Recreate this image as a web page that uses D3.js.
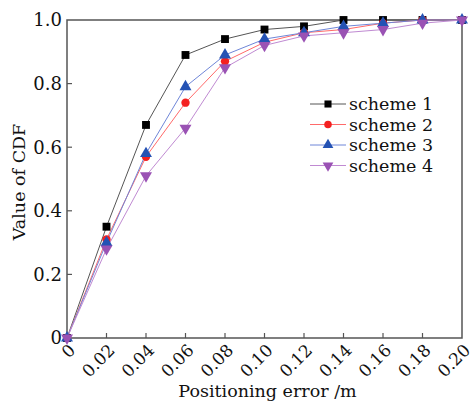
<!DOCTYPE html>
<html>
<head>
<meta charset="utf-8">
<script src="https://cdn.jsdelivr.net/npm/d3@7"></script>
<style>
  body { margin: 0; background: #fff; }
  text { font-family: "DejaVu Serif", serif; }
</style>
</head>
<body>
<div id="container"></div>
<script>
const xValues = [0, 0.02, 0.04, 0.06, 0.08, 0.10, 0.12, 0.14, 0.16, 0.18, 0.20]
const scheme1 = [0, 0.35, 0.67, 0.89, 0.94, 0.97, 0.98, 1.0, 1.0, 1.0, 1.0]
const scheme2 = [0, 0.31, 0.57, 0.74, 0.87, 0.93, 0.96, 0.97, 0.99, 1.0, 1.0]
const scheme3 = [0, 0.30, 0.58, 0.79, 0.89, 0.94, 0.96, 0.98, 0.99, 1.0, 1.0]
const scheme4 = [0, 0.28, 0.51, 0.66, 0.85, 0.92, 0.95, 0.96, 0.97, 0.99, 1.0]
const seriesNames = ["scheme 1", "scheme 2", "scheme 3", "scheme 4"]
const xTickLabels = ["0", "0.02", "0.04", "0.06", "0.08", "0.10", "0.12", "0.14", "0.16", "0.18", "0.20"]
const yTicks = [0, 0.2, 0.4, 0.6, 0.8, 1.0]
const yTickLabels = ["0", "0.2", "0.4", "0.6", "0.8", "1.0"]

const series = [
    { name: seriesNames[0], values: scheme1, line: "#555", fill: "#000", symbol: d3.symbolSquare, rot: 0 },
    { name: seriesNames[1], values: scheme2, line: "#ff6a6a", fill: "#f42020", symbol: d3.symbolCircle, rot: 0 },
    { name: seriesNames[2], values: scheme3, line: "#6f86d8", fill: "#2452b4", symbol: d3.symbolTriangle, rot: 0 },
    { name: seriesNames[3], values: scheme4, line: "#c08ad2", fill: "#9a52b4", symbol: d3.symbolTriangle, rot: 180 }
]

const margin = { top: 20, right: 10, bottom: 63, left: 67 }
const width = 472 - margin.left - margin.right
const height = 401 - margin.top - margin.bottom

let svg = d3.select("#container")
    .append("svg")
    .attr("width", 472)
    .attr("height", 401)
    .append("g")
    .attr("transform", "translate(" + margin.left + "," + margin.top + ")")

const xScale = d3.scaleLinear().domain([0, 0.2]).range([0, width])
const yScale = d3.scaleLinear().domain([0, 1]).range([height, 0])

const axisColor = "#555"

// frame
svg.append("rect")
    .attr("width", width)
    .attr("height", height)
    .attr("fill", "none")
    .attr("stroke", axisColor)
    .attr("stroke-width", 1.5)

// x ticks (inside)
svg.append("g")
    .selectAll("line")
    .data(xValues.slice(1, -1))
    .enter()
    .append("line")
    .attr("x1", d => xScale(d))
    .attr("x2", d => xScale(d))
    .attr("y1", height)
    .attr("y2", height - 5)
    .attr("stroke", axisColor)
    .attr("stroke-width", 1.2)

svg.append("g")
    .selectAll("text")
    .data(xValues)
    .enter()
    .append("text")
    .attr("transform", d => "translate(" + (xScale(d) + 1) + "," + (height + 5) + ") rotate(-45)")
    .attr("text-anchor", "end")
    .attr("dy", "0.7em")
    .style("font-size", "17px")
    .style("fill", "#111")
    .text((d, i) => xTickLabels[i])

// y ticks (inside)
svg.append("g")
    .selectAll("line")
    .data(yTicks.slice(1, -1))
    .enter()
    .append("line")
    .attr("x1", 0)
    .attr("x2", 5)
    .attr("y1", d => yScale(d))
    .attr("y2", d => yScale(d))
    .attr("stroke", axisColor)
    .attr("stroke-width", 1.2)

svg.append("g")
    .selectAll("text")
    .data(yTicks)
    .enter()
    .append("text")
    .attr("x", -5)
    .attr("y", d => yScale(d))
    .attr("dy", "0.35em")
    .attr("text-anchor", "end")
    .style("font-size", "18px")
    .style("fill", "#111")
    .text((d, i) => yTickLabels[i])

// axis titles
svg.append("text")
    .attr("transform", "rotate(-90)")
    .attr("x", -162)
    .attr("y", -42)
    .attr("text-anchor", "middle")
    .style("font-size", "17.5px")
    .style("fill", "#111")
    .text("Value of CDF")

svg.append("text")
    .attr("x", width / 2 + 3)
    .attr("y", height + 59)
    .attr("text-anchor", "middle")
    .style("font-size", "17.5px")
    .style("fill", "#111")
    .text("Positioning error /m")

// lines and markers
let line = d3.line()
    .x((d, i) => xScale(xValues[i]))
    .y(d => yScale(d))

series.forEach(s => {
    svg.append("path")
        .attr("fill", "none")
        .attr("stroke", s.line)
        .attr("stroke-width", 1)
        .attr("d", line(s.values))
})

series.forEach(s => {
    svg.append("g")
        .selectAll("path")
        .data(s.values)
        .enter()
        .append("path")
        .attr("d", d3.symbol().type(s.symbol).size(s.symbol === d3.symbolCircle ? 55 : 62))
        .attr("transform", (d, i) => "translate(" + xScale(xValues[i]) + "," + yScale(d) + ") rotate(" + s.rot + ")")
        .attr("fill", s.fill)
})

// legend
let legend = svg.append("g")
    .attr("transform", "translate(243,84)")

series.forEach((s, i) => {
    let row = legend.append("g").attr("transform", "translate(0," + (i * 20.5) + ")")
    row.append("line")
        .attr("x1", 0)
        .attr("x2", 36)
        .attr("stroke", s.line)
        .attr("stroke-width", 1)
    row.append("path")
        .attr("d", d3.symbol().type(s.symbol).size(s.symbol === d3.symbolCircle ? 45 : 50))
        .attr("transform", "translate(18,0) rotate(" + s.rot + ")")
        .attr("fill", s.fill)
    row.append("text")
        .attr("x", 39)
        .attr("dy", "0.35em")
        .style("font-size", "17.5px")
        .style("fill", "#111")
        .text(s.name)
})
</script>
</body>
</html>
